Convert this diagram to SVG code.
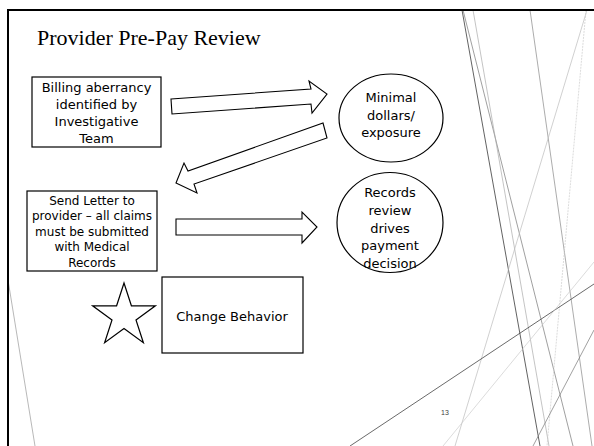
<svg xmlns="http://www.w3.org/2000/svg" width="594" height="446" viewBox="0 0 594 446">
<style>
.box{fill:#fff;stroke:#000;stroke-width:1.2}
.arr{fill:#fff;stroke:#000;stroke-width:1.1;stroke-linejoin:miter}
.t{font-family:"DejaVu Sans","Liberation Sans",sans-serif;font-size:13px;fill:#000;text-anchor:middle}
.s{font-size:12px}
.deco{fill:none}
</style>
<rect width="594" height="446" fill="#fff"/>
<g id="decoration" class="deco">
<line x1="462" y1="10" x2="540" y2="446" stroke="#3a3a3a" stroke-width="0.8"/>
<line x1="463" y1="10" x2="573" y2="446" stroke="#777" stroke-width="0.7"/>
<line x1="473" y1="10" x2="549" y2="446" stroke="#aaa" stroke-width="0.7"/>
<line x1="530" y1="10" x2="592" y2="446" stroke="#888" stroke-width="0.7"/>
<line x1="587" y1="10" x2="455" y2="446" stroke="#bbb" stroke-width="0.7"/>
<line x1="586" y1="10" x2="547" y2="446" stroke="#ccc" stroke-width="0.7" stroke-dasharray="2,1"/>
<line x1="350" y1="446" x2="594" y2="284" stroke="#444" stroke-width="0.8"/>
<line x1="594" y1="262" x2="443" y2="446" stroke="#ccc" stroke-width="0.7"/>
<line x1="594" y1="330" x2="533" y2="446" stroke="#777" stroke-width="0.7"/>
<line x1="8" y1="280" x2="35" y2="446" stroke="#999" stroke-width="0.7"/>
</g>
<g id="frame" fill="none" stroke="#000" stroke-width="2">
<line x1="7" y1="10" x2="594" y2="10"/>
<line x1="8" y1="9" x2="8" y2="446"/>
</g>
<text id="title" x="37" y="45" font-family="Liberation Serif, serif" font-size="22" fill="#000">Provider Pre-Pay Review</text>
<g id="connectors">
<polygon class="arr" points="171,99 311,89 309,81 327,94 312,113 311,104 172,114"/>
<polygon class="arr" points="323,123 327,138 194,184 197,193 176,183 184,163 188,171"/>
<polygon class="arr" points="176,219 302,219 302,212 317,227 302,243 302,235 176,235"/>
</g>
<g id="billing">
<rect class="box" x="32" y="77" width="129" height="70"/>
<text class="t"><tspan x="96.5" y="92">Billing aberrancy</tspan><tspan x="96.5" y="109">identified by</tspan><tspan x="96.5" y="126">Investigative</tspan><tspan x="96.5" y="143">Team</tspan></text>
</g>
<g id="minimal">
<ellipse class="box" cx="391" cy="118" rx="52" ry="44"/>
<text class="t"><tspan x="391" y="101.5">Minimal</tspan><tspan x="391" y="119.5">dollars/</tspan><tspan x="391" y="137">exposure</tspan></text>
</g>
<g id="letter">
<rect class="box" x="27" y="191" width="130" height="80"/>
<text class="t s"><tspan x="92" y="204.5">Send Letter to</tspan><tspan x="92" y="220">provider – all claims</tspan><tspan x="92" y="235.5">must be submitted</tspan><tspan x="92" y="251">with Medical</tspan><tspan x="92" y="266.5">Records</tspan></text>
</g>
<g id="records">
<ellipse class="box" cx="390" cy="222.5" rx="53" ry="50"/>
<text class="t"><tspan x="390" y="196.5">Records</tspan><tspan x="390" y="214.5">review</tspan><tspan x="390" y="232.5">drives</tspan><tspan x="390" y="250">payment</tspan><tspan x="390" y="267.5">decision</tspan></text>
</g>
<g id="star">
<polygon class="box" points="124,283 131.4,305.8 155.4,305.8 136,319.9 143.4,342.7 124,328.6 104.6,342.7 112,319.9 92.6,305.8 116.6,305.8"/>
</g>
<g id="change">
<rect class="box" x="162" y="277" width="141" height="76"/>
<text class="t" x="232" y="321">Change Behavior</text>
</g>
<text id="page" x="445" y="415" font-family="Liberation Sans, sans-serif" font-size="7" fill="#404040" text-anchor="middle">13</text>
</svg>
